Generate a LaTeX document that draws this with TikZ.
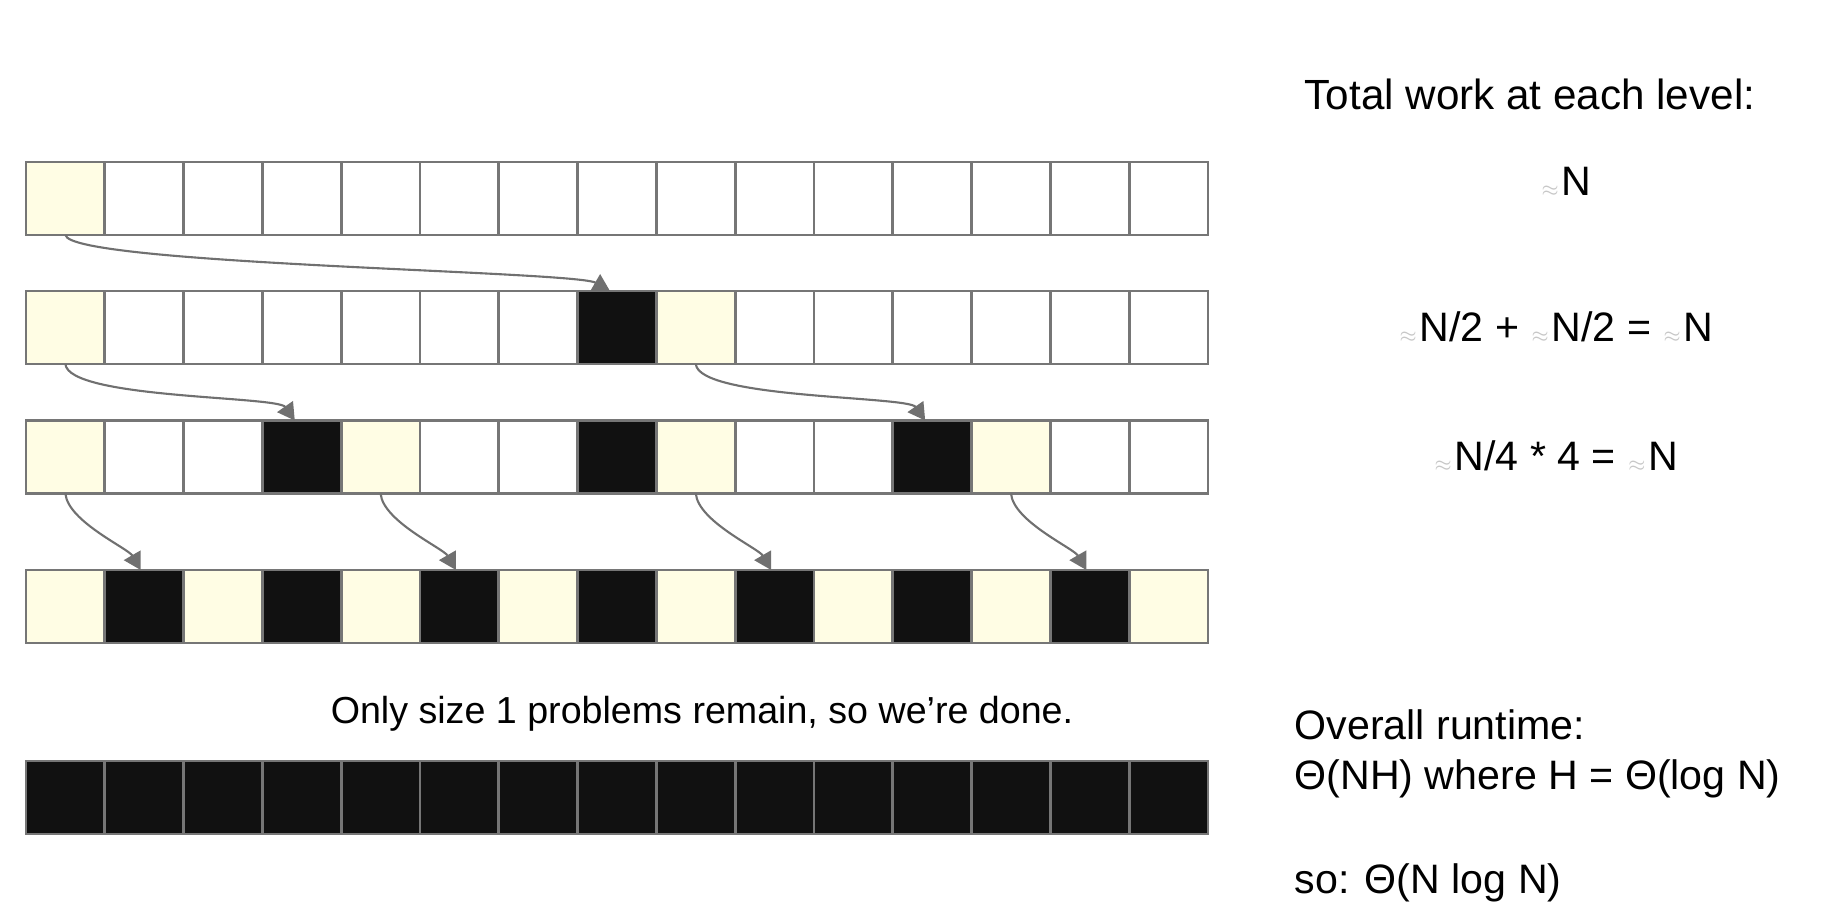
\documentclass[tikz,border=0pt]{standalone}
\usepackage{fontspec}
\setmainfont{Liberation Sans}
\usetikzlibrary{arrows.meta}
\definecolor{litcell}{RGB}{255,253,228}
\definecolor{donecell}{RGB}{17,17,17}
\definecolor{gridgray}{RGB}{118,118,118}
\definecolor{arrowgray}{RGB}{112,112,112}
\newcommand{\approxN}{{\color{black!22}\fontsize{3.5}{4}\selectfont$\approx$}\hspace{0.6pt}}

\begin{document}
\begin{tikzpicture}[x=0.01cm,y=0.01cm,
  cell/.style={draw=gridgray,line width=0.8pt,fill=white,
    minimum width=0.788cm,minimum height=0.73cm,inner sep=0pt,outer sep=0pt},
  lit/.style={cell,fill=litcell},
  done/.style={cell,fill=donecell},
  moveto/.style={draw=arrowgray,line width=0.6pt,
    -{Triangle[length=0.17cm,width=0.19cm]}},
  worktext/.style={font=\fontsize{11.7}{14}\selectfont,inner sep=0pt}]
\useasboundingbox (0,0) rectangle (1842,-920);
\foreach \s [count=\i from 0] in {lit,cell,cell,cell,cell,cell,cell,cell,cell,cell,cell,cell,cell,cell,cell}
  \node[\s] (l1-\i) at ({65.4+78.8*\i},-198.5) {};
\foreach \s [count=\i from 0] in {lit,cell,cell,cell,cell,cell,cell,done,lit,cell,cell,cell,cell,cell,cell}
  \node[\s] (l2-\i) at ({65.4+78.8*\i},-327.5) {};
\foreach \s [count=\i from 0] in {lit,cell,cell,done,lit,cell,cell,done,lit,cell,cell,done,lit,cell,cell}
  \node[\s] (l3-\i) at ({65.4+78.8*\i},-457) {};
\foreach \s [count=\i from 0] in {lit,done,lit,done,lit,done,lit,done,lit,done,lit,done,lit,done,lit}
  \node[\s] (l4-\i) at ({65.4+78.8*\i},-606.5) {};
\foreach \i in {0,...,14}
  \node[done] (l5-\i) at ({65.4+78.8*\i},-797.5) {};

\draw[moveto] (l1-0.south) to[out=-80,in=150,out distance=0.3cm,in distance=0.4cm] ([xshift=-2pt]l2-7.north);
\foreach \a/\b in {0/3,8/11}
  \draw[moveto] (l2-\a.south) to[out=-85,in=125,out distance=0.35cm,in distance=0.3cm] ([xshift=-2pt]l3-\b.north);
\foreach \a/\b in {0/1,4/5,8/9,12/13}
  \draw[moveto] (l3-\a.south) to[out=-85,in=120,out distance=0.28cm,in distance=0.25cm] ([xshift=-1pt]l4-\b.north);

\node[worktext,font=\fontsize{12}{14}\selectfont] (totalwork) at (1530,-94) {Total work at each level:};
\node[worktext] (lvl1) at (1566,-182) {\approxN N};
\node[worktext] (lvl2) at (1556,-327) {\approxN N/2 + \approxN N/2 = \approxN N};
\node[worktext] (lvl3) at (1556,-456) {\approxN N/4 * 4 = \approxN N};
\node[font=\fontsize{10.7}{13}\selectfont,inner sep=0pt] (donenote) at (702,-714) {Only size 1 problems remain, so we're done.};
\node[worktext,anchor=west] (overall) at (1294,-725) {Overall runtime:};
\node[worktext,anchor=west] (bound) at (1294,-779) {Θ(NH) where H = Θ(log N)};
\node[worktext,anchor=west] (sofinal) at (1294,-883) {so: Θ(N log N)};
\end{tikzpicture}
\end{document}
